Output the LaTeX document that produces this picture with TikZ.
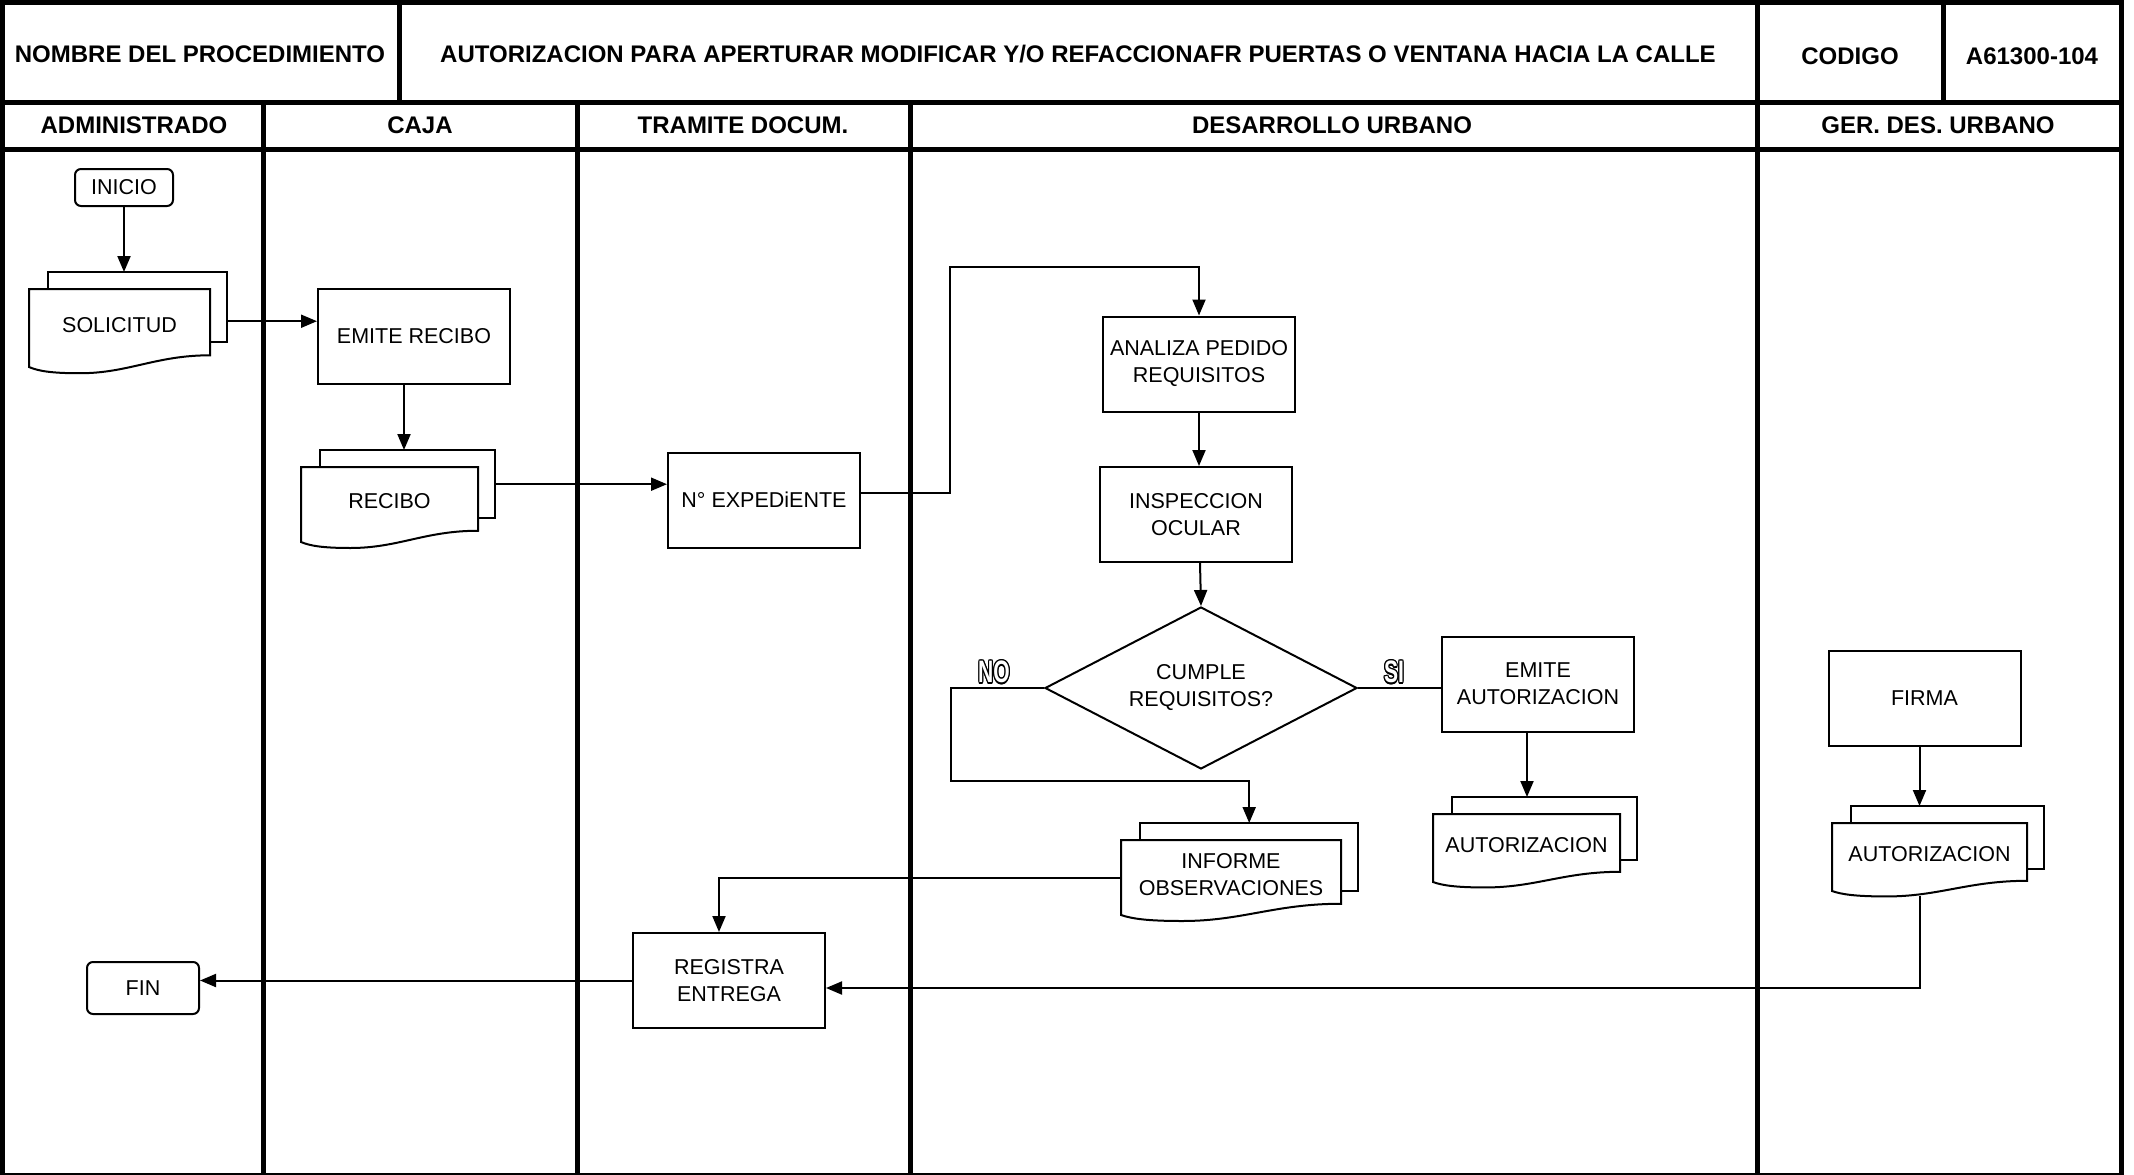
\documentclass[tikz,border=0pt]{standalone}
\usepackage{fontspec}
\setmainfont{Liberation Sans}
\usetikzlibrary{arrows.meta,shapes.geometric}
\tikzset{
  frame/.style={line width=5pt},
  hdr/.style={font=\fontsize{24}{27}\selectfont\bfseries, inner sep=0pt},
  txt/.style={font=\fontsize{21.5}{27}\selectfont, align=center, inner sep=0pt},
  box/.style={draw, line width=2pt, minimum width=192pt, minimum height=95pt, align=center,
    font=\fontsize{21.5}{27}\selectfont, inner sep=2pt},
  term/.style={draw, line width=2pt, rounded corners=6pt, align=center,
    font=\fontsize{21.5}{27}\selectfont, inner sep=0pt},
  dec/.style={draw, line width=2pt, shape=diamond, minimum width=312pt, minimum height=162pt,
    aspect=1.93, align=center, font=\fontsize{21.5}{27}\selectfont, inner sep=0pt},
  docline/.style={line width=2pt},
  conn/.style={line width=2pt},
  arr/.style={line width=2pt, -{Triangle[length=16pt,width=13pt]}},
  outl/.style={font=\fontsize{31}{31}\selectfont\bfseries, inner sep=0pt, xscale=0.68, transform shape},
}
\newcommand\mdoc[6]{%
  \pgfmathsetmacro\mdW{#4-#2}%
  \pgfmathsetmacro\mdH{#5-#3}%
  \pgfmathsetmacro\mdBH{0.68*\mdH+17}%
  \pgfmathsetmacro\mdBW{#4+17-(#2+19)}%
  \node[minimum width=\mdW pt, minimum height=\mdH pt, inner sep=0pt, anchor=north west] (#1) at (#2,#3) {};
  \node[minimum width=\mdBW pt, minimum height=\mdBH pt, inner sep=0pt, anchor=north west] (#1-b) at ({#2+19},{#3-17}) {};
  \draw[docline] ({#2+19},#3) -- ({#2+19},{#3-17}) -- ({#4+17},{#3-17}) -- ({#4+17},{#3+0.68*\mdH}) -- (#4,{#3+0.68*\mdH});
  \draw[docline, fill=white] (#2,#3) -- (#4,#3) -- (#4,{#3+0.85*\mdH})
     .. controls ({#4-0.3*\mdW},{#3+0.85*\mdH}) and ({#2+0.55*\mdW},{#3+1.08*\mdH}) .. ({#2+0.28*\mdW},{#3+1.08*\mdH})
     .. controls ({#2+0.12*\mdW},{#3+1.08*\mdH}) and ({#2+0.05*\mdW},{#3+1.05*\mdH}) .. (#2,{#3+\mdH}) -- cycle;
  \node[txt] (#1-t) at ({(#2+#4)/2},{#3+0.46*\mdH}) {#6};
}
\begin{document}
\begin{tikzpicture}[x=1pt,y=-1pt]
\useasboundingbox (0,0) rectangle (2134,1175);
% frame
\draw[frame] (0,2.5) -- (2124,2.5);
\draw[frame] (2.5,0) -- (2.5,1175);
\draw[frame] (2121.5,0) -- (2121.5,1175);
\draw[line width=2pt] (0,1174) -- (2124,1174);
\draw[frame] (0,102) -- (2124,102);
\draw[frame] (0,149) -- (2124,149);
\draw[frame] (399,0) -- (399,102);
\draw[frame] (1943,0) -- (1943,102);
\draw[frame] (1757,0) -- (1757,1175);
\draw[frame] (263,102) -- (263,1175);
\draw[frame] (577,102) -- (577,1175);
\draw[frame] (910,102) -- (910,1175);
% header texts
\node[hdr] (h1) at (200,54) {NOMBRE DEL PROCEDIMIENTO};
\node[hdr] (h2) at (1078,54) {AUTORIZACION PARA APERTURAR MODIFICAR Y/O REFACCIONAFR PUERTAS O VENTANA HACIA LA CALLE};
\node[hdr] (h3) at (1850,56) {CODIGO};
\node[hdr] (h4) at (2032,56) {A61300-104};
\node[hdr] (l1) at (134,125) {ADMINISTRADO};
\node[hdr] (l2) at (420,125) {CAJA};
\node[hdr] (l3) at (743,125) {TRAMITE DOCUM.};
\node[hdr] (l4) at (1332,125) {DESARROLLO URBANO};
\node[hdr] (l5) at (1938,125) {GER. DES. URBANO};
% nodes
\node[term, minimum width=98pt, minimum height=37pt] (inicio) at (124,187.5) {INICIO};
\mdoc{sol}{29}{289}{210}{367}{SOLICITUD}
\node[box] (emite) at (414,336.5) {EMITE RECIBO};
\mdoc{rec}{301}{467}{478}{542}{RECIBO}
\node[box] (exp) at (764,500) {N° EXPEDiENTE};
\coordinate (bend1) at (950,267);
\node[box] (analiza) at (1199,364) {ANALIZA PEDIDO\\REQUISITOS};
\node[box] (insp) at (1196,514.5) {INSPECCION\\OCULAR};
\node[dec] (dia) at (1201,688) {CUMPLE\\REQUISITOS?};
\coordinate (no2) at (951,781);
\mdoc{inf}{1121}{840}{1341}{915}{INFORME\\OBSERVACIONES}
\node[box] (emiteaut) at (1538,684) {EMITE\\AUTORIZACION};
\mdoc{aut1}{1433}{814}{1620}{882}{AUTORIZACION}
\node[box] (firma) at (1924.5,698.5) {FIRMA};
\mdoc{aut2}{1832}{823}{2027}{891}{AUTORIZACION}
\node[box] (registra) at (729,980.5) {REGISTRA\\ENTREGA};
\node[term, minimum width=112pt, minimum height=52pt] (fin) at (143,988) {FIN};
% NO / SI outlined labels
\foreach \a in {0,30,...,330} {
  \node[outl, shift={(\a:1.6pt)}] (noc\a) at (994,672) {NO};
  \node[outl, shift={(\a:1.6pt)}] (sic\a) at (1394,672) {SI};
}
\node[outl, text=white] (nolbl) at (994,672) {NO};
\node[outl, text=white] (silbl) at (1394,672) {SI};
% connectors
\draw[arr] (inicio.south) -- (inicio.south |- sol-b.north);
\draw[arr] ([yshift=-14pt]sol-b.east) -- ([yshift=-14pt]sol-b.east -| emite.west);
\draw[arr] ([xshift=-10pt]emite.south) -- ([xshift=-10pt]emite.south |- rec-b.north);
\draw[arr] (rec-b.east) -- (rec-b.east -| exp.west);
\draw[arr] ([yshift=7pt]exp.east) -| (bend1) -| (analiza.north);
\draw[arr] (analiza.south) -- (analiza.south |- insp.north);
\draw[arr] ([xshift=4pt]insp.south) -- (dia.north);
\draw[arr] (dia.west) -| (no2) -| (inf-b.north);
\draw[conn] (dia.east) -- (dia.east -| emiteaut.west);
\draw[arr] ([xshift=-11pt]emiteaut.south) -- ([xshift=-11pt]emiteaut.south |- aut1-b.north);
\draw[arr] ([xshift=-5pt]firma.south) -- ([xshift=-5pt]firma.south |- aut2-b.north);
\draw[arr] ([xshift=-10pt,yshift=-5pt]aut2.south) |- ([yshift=-7.5pt]registra.east);
\draw[arr] (inf.west) -| ([xshift=-10pt]registra.north);
\draw[arr] (registra.west) -- (registra.west -| fin.east);
\end{tikzpicture}
\end{document}
